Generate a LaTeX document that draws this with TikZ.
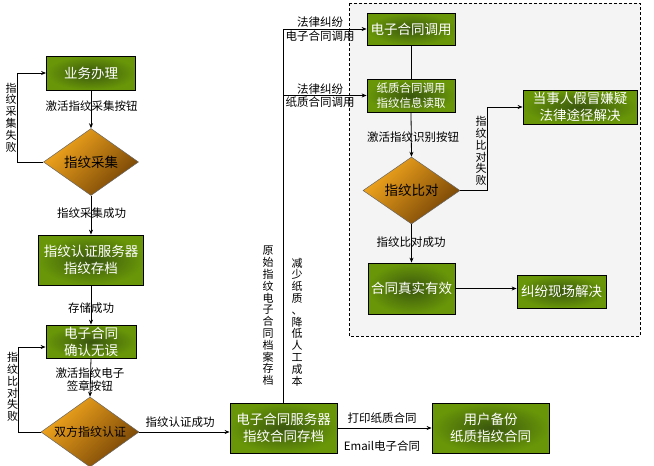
\documentclass[tikz,border=0pt]{standalone}
\usepackage{fontspec}
\setmainfont{Noto Sans CJK SC}
\usetikzlibrary{shapes.geometric,arrows.meta}
\definecolor{gOut}{RGB}{104,150,8}
\definecolor{gIn}{RGB}{58,86,14}
\definecolor{oA}{RGB}{248,170,30}
\definecolor{oB}{RGB}{115,66,5}
\definecolor{frameFill}{RGB}{244,244,244}
\begin{document}
\begin{tikzpicture}[x=1pt,y=-1pt,
 gbox/.style={draw=black,line width=0.8pt,inner color=gIn,outer color=gOut,text=white,font=\fontsize{13.5}{17}\selectfont,align=center,inner sep=0pt},
 dia/.style={diamond,draw=black!60,line width=0.5pt,top color=oA,bottom color=oB,shading angle=45,font=\fontsize{13.5}{15}\selectfont,inner sep=0pt,aspect=1.4},
 lbl/.style={font=\fontsize{11.5}{13.5}\selectfont,inner sep=0pt,align=center},
 vlbl/.style={font=\fontsize{11}{11.8}\selectfont,inner sep=0pt,align=center},
 arr/.style={-{Stealth[length=5pt,width=4pt]},line width=0.8pt},
 ln/.style={line width=0.8pt}]
\useasboundingbox (0,0) rectangle (654,466);
\fill[white] (0,0) rectangle (654,466);
% dashed frame
\draw[dash pattern=on 3pt off 2pt,line width=0.8pt,fill=frameFill] (349,3) rectangle (640,336);
% nodes
\node[gbox,minimum width=89pt,minimum height=34pt] (A) at (91,73) {业务办理};
\node[dia,minimum width=95pt,minimum height=67pt] (B) at (91,162) {指纹采集};
\node[gbox,minimum width=105pt,minimum height=50pt] (C) at (91,260) {指纹认证服务器\\指纹存档};
\node[gbox,minimum width=90pt,minimum height=33pt] (D) at (91,341.5) {电子合同\\确认无误};
\node[dia,minimum width=98pt,minimum height=70pt,font=\fontsize{12}{14}\selectfont] (E) at (90,432) {双方指纹认证};
\node[gbox,minimum width=107pt,minimum height=50pt] (F) at (283.5,428) {电子合同服务器\\指纹合同存档};
\node[gbox,minimum width=117pt,minimum height=50pt] (G) at (490.5,428) {用户备份\\纸质指纹合同};
\node[gbox,minimum width=88pt,minimum height=32pt] (H) at (411,29) {电子合同调用};
\node[gbox,minimum width=88pt,minimum height=33pt,font=\fontsize{11.5}{15}\selectfont] (I) at (411,95.5) {纸质合同调用\\指纹信息读取};
\node[dia,minimum width=97pt,minimum height=67pt] (J) at (411.5,190.5) {指纹比对};
\node[gbox,minimum width=114pt,minimum height=34pt,font=\fontsize{13.5}{16.5}\selectfont] (K) at (580,107) {当事人假冒嫌疑\\法律途径解决};
\node[gbox,minimum width=87pt,minimum height=51pt] (L) at (411.5,288.5) {合同真实有效};
\node[gbox,minimum width=89pt,minimum height=33pt] (M) at (561.5,291.5) {纠纷现场解决};
% helper coordinates
\coordinate (lp1) at (17,73);
\coordinate (lp2) at (18,347);
\coordinate (lp4) at (487,107);
% connectors
\draw[arr] (A.south) -- (B.north);
\draw[arr] (B.west) -| (lp1) -- (A.west);
\draw[arr] (B.south) -- (C.north);
\draw[arr] (C.south) -- (D.north);
\draw[arr] (D.south) -- (E.north);
\draw[arr] (E.west) -| (lp2) -- (D.west |- lp2);
\draw[arr] (E.east) -- (F.west |- E.east);
\draw[arr] (F.north) |- (H.west);
\draw[arr] (F.north |- I.west) -- (I.west);
\draw[ln] (H.south) -- (I.north);
\draw[arr] (I.south) -- (J.north);
\draw[arr] (J.south) -- (L.north);
\draw[arr] (J.east) -| (lp4) -- (K.west);
\draw[arr] (L.east) -- (M.west |- L.east);
\draw[arr] (F.east |- G.west) -- (G.west);
% labels
\node[lbl] (t1) at (91.5,106) {激活指纹采集按钮};
\node[lbl] (t2) at (91.5,213) {指纹采集成功};
\node[lbl] (t3) at (91,308) {存储成功};
\node[lbl] (t4) at (90,379.5) {激活指纹电子\\签章按钮};
\node[lbl] (t5) at (180,422) {指纹认证成功};
\node[lbl] (t6) at (382,418) {打印纸质合同};
\node[lbl] (t7) at (382,446) {Email电子合同};
\node[lbl] (t8) at (413,137) {激活指纹识别按钮};
\node[lbl] (t9) at (411,242) {指纹比对成功};
\node[lbl] (t10) at (320,29) {法律纠纷\\电子合同调用};
\node[lbl] (t11) at (320,95.5) {法律纠纷\\纸质合同调用};
\node[vlbl] (v1) at (11,117.5) {指\\纹\\采\\集\\失\\败};
\node[vlbl] (v2) at (12.5,387) {指\\纹\\比\\对\\失\\败};
\node[vlbl] (v3) at (481,151) {指\\纹\\比\\对\\失\\败};
\node[vlbl] (v4) at (268,316) {原\\始\\指\\纹\\电\\子\\合\\同\\档\\案\\存\\档};
\node[vlbl] (v5) at (297,322) {减\\少\\纸\\质\\、\\降\\低\\人\\工\\成\\本};
\end{tikzpicture}
\end{document}
